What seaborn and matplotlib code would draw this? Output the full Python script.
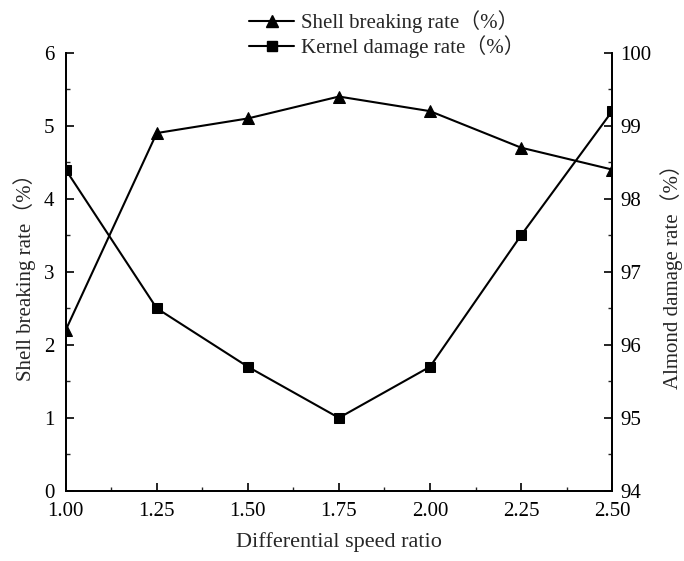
import matplotlib
matplotlib.use("Agg")
import matplotlib.pyplot as plt
import seaborn as sns
from matplotlib.ticker import MultipleLocator
from matplotlib.lines import Line2D

# data
speed_ratio = [1.00, 1.25, 1.50, 1.75, 2.00, 2.25, 2.50]
shell_breaking = [2.2, 4.9, 5.1, 5.4, 5.2, 4.7, 4.4]
kernel_damage = [98.4, 96.5, 95.7, 95.0, 95.7, 97.5, 99.2]

sns.set_style("ticks")
plt.rcParams['font.family'] = ['Liberation Serif', 'Noto Sans CJK SC']
plt.rcParams['font.size'] = 15

fig = plt.figure(figsize=(6.84, 5.61), dpi=100)
ax = fig.add_axes([0.096, 0.125, 0.799, 0.781])
ax2 = ax.twinx()

sns.lineplot(x=speed_ratio, y=shell_breaking, ax=ax, color='black', marker='^',
             markersize=8, linewidth=1.5, markeredgecolor='black')
sns.lineplot(x=speed_ratio, y=kernel_damage, ax=ax2, color='black', marker='s',
             markersize=7, linewidth=1.5, markeredgecolor='black')

ax.set_xlim(1.0, 2.5)
ax.set_ylim(0, 6)
ax2.set_ylim(94, 100)
ax.set_xticks(speed_ratio)
ax.set_xticklabels([f"{v:.2f}" for v in speed_ratio])
ax.xaxis.set_minor_locator(MultipleLocator(0.125))
ax.yaxis.set_minor_locator(MultipleLocator(0.5))
ax2.yaxis.set_minor_locator(MultipleLocator(0.5))

for a in (ax, ax2):
    a.tick_params(which='major', direction='in', length=6, width=1.2, labelsize=15, colors='black')
    a.tick_params(which='minor', direction='in', length=3, width=1.0)
    a.spines['top'].set_visible(False)
    for s in ('left', 'right', 'bottom'):
        a.spines[s].set_linewidth(1.3)
        a.spines[s].set_color('black')
ax.tick_params(axis='y', pad=8)
ax2.tick_params(axis='y', pad=6)
ax.tick_params(axis='x', pad=8)

ax.set_xlabel("Differential speed ratio", fontsize=16, labelpad=8)
ax.set_ylabel("Shell breaking rate（%）", fontsize=15, labelpad=6)
ax2.set_ylabel("Almond damage rate（%）", fontsize=15, labelpad=6)

handles = [
    Line2D([], [], color='black', marker='^', markersize=8, linewidth=1.5),
    Line2D([], [], color='black', marker='s', markersize=7, linewidth=1.5),
]
fig.legend(handles, ["Shell breaking rate（%）", "Kernel damage rate（%）"],
           loc='upper center', bbox_to_anchor=(0.565, 1.015), frameon=False,
           fontsize=15, handlelength=2.2, handletextpad=0.3, labelspacing=0.1)

fig.savefig("out.png", dpi=100)
